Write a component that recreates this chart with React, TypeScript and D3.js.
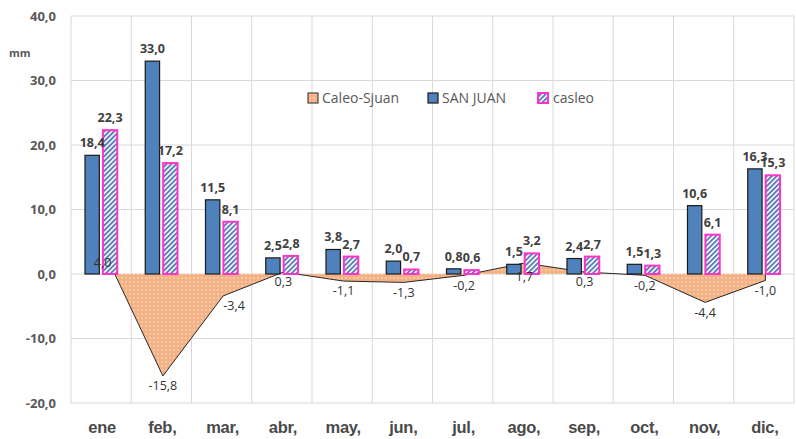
import React from 'react'
import * as d3 from 'd3'

// Monthly rainfall, mm
const months = ['ene', 'feb,', 'mar,', 'abr,', 'may,', 'jun,', 'jul,', 'ago,', 'sep,', 'oct,', 'nov,', 'dic,']
const sanJuan = [18.4, 33.0, 11.5, 2.5, 3.8, 2.0, 0.8, 1.5, 2.4, 1.5, 10.6, 16.3]
const casleo = [22.3, 17.2, 8.1, 2.8, 2.7, 0.7, 0.6, 3.2, 2.7, 1.3, 6.1, 15.3]
const diff = [4.0, -15.8, -3.4, 0.3, -1.1, -1.3, -0.2, 1.7, 0.3, -0.2, -4.4, -1.0]
const yTicks = [-20, -10, 0, 10, 20, 30, 40]
const seriesNames = ['Caleo-Sjuan', 'SAN JUAN', 'casleo']

const W = 796
const H = 439
const plot = { left: 71, right: 794, top: 16, bottom: 403 }

const fmt = (v: number) => v.toFixed(1).replace('.', ',')

const BLUE = '#4f81bd'
const PINK = '#ff33cc'
const ORANGE = '#f4b183'
const GRID = '#d9d9d9'
const TXT = '#595959'

export default function App() {
  const x = d3.scaleBand<string>().domain(months).range([plot.left, plot.right]).padding(0)
  const x1 = d3.scaleBand<string>().domain(['s', 'c']).range([0, x.bandwidth()])
    .paddingInner(0.2).paddingOuter(0.78)
  const y = d3.scaleLinear().domain([-20, 40]).range([plot.bottom, plot.top])

  const cx = (i: number) => (x(months[i]) as number) + x.bandwidth() / 2 + 1.5

  const area = d3.area<number>()
    .x((_, i) => cx(i))
    .y0(y(0))
    .y1(d => y(d))
  const outline = d3.line<[number, number]>()
    .x(d => d[0]).y(d => d[1])
  const outlinePts: [number, number][] = [
    [cx(0), y(0)],
    ...diff.map((d, i) => [cx(i), y(d)] as [number, number]),
    [cx(diff.length - 1), y(0)],
  ]

  const labelFont = "'Open Sans', 'Liberation Sans', sans-serif"

  return (
    <div style={{ position: 'fixed', left: 0, top: 0 }}>
      <svg width={W} height={H} style={{ display: 'block', background: '#fff' }}>
        <defs>
          <pattern id="dots" width="4" height="4" patternUnits="userSpaceOnUse">
            <rect width="4" height="4" fill={ORANGE} />
            <circle cx="2" cy="2" r="0.7" fill="#fff" opacity="0.85" />
          </pattern>
          <pattern id="hatch" width="3.5" height="3.5" patternUnits="userSpaceOnUse" patternTransform="rotate(45)">
            <rect width="3.5" height="3.5" fill="#fff" />
            <rect width="1.9" height="3.5" fill="#5b7cb8" />
          </pattern>
        </defs>

        {/* grid */}
        {yTicks.map(t => (
          <line key={'h' + t} x1={plot.left} x2={plot.right} y1={y(t)} y2={y(t)} stroke={GRID} strokeWidth={1} />
        ))}
        {months.map(m => (
          <line key={'v' + m} x1={x(m)} x2={x(m)} y1={plot.top} y2={plot.bottom} stroke={GRID} strokeWidth={1} />
        ))}
        <line x1={plot.right} x2={plot.right} y1={plot.top} y2={plot.bottom} stroke={GRID} />

        {/* y tick labels */}
        {yTicks.map(t => (
          <text key={'yt' + t} x={56} y={y(t)} dy="0.35em" textAnchor="end"
            fontFamily={labelFont} fontWeight="bold" fontSize={13} fill={TXT}>{fmt(t)}</text>
        ))}
        <text x={9} y={53} dy="0.35em" fontFamily={labelFont} fontWeight="bold" fontSize={11} fill={TXT}>mm</text>

        {/* difference area */}
        <path d={area(diff) || ''} fill="url(#dots)" />
        <path d={outline(outlinePts) || ''} fill="none" stroke="#262626" strokeWidth={1} />

        {/* bars */}
        {months.map((m, i) => (
          <g key={'b' + m} transform={`translate(${x(m)},0)`}>
            <rect x={x1('s')} width={x1.bandwidth()} y={y(sanJuan[i])} height={y(0) - y(sanJuan[i])}
              fill={BLUE} stroke="#1a1a1a" strokeWidth={1.2} />
            <rect x={x1('c')} width={x1.bandwidth()} y={y(casleo[i])} height={y(0) - y(casleo[i])}
              fill="url(#hatch)" stroke={PINK} strokeWidth={2} />
          </g>
        ))}

        {/* bar labels */}
        {months.map((m, i) => (
          <g key={'bl' + m} fontFamily={labelFont} fontWeight="bold" fontSize={12.5} fill="#404040" textAnchor="middle">
            <text x={(x(m) as number) + (x1('s') as number) + x1.bandwidth() / 2} y={y(sanJuan[i]) - 8}>{fmt(sanJuan[i])}</text>
            <text x={(x(m) as number) + (x1('c') as number) + x1.bandwidth() / 2} y={y(casleo[i]) - 8}>{fmt(casleo[i])}</text>
          </g>
        ))}

        {/* area labels */}
        {diff.map((d, i) => (
          <text key={'al' + i} x={cx(i) + (i === 2 ? 11 : 0)} y={y(d) + (d > 1 ? 14 : 10)} dy="0.35em"
            textAnchor="middle" fontFamily={labelFont} fontSize={12.5} fill="#333">{fmt(d)}</text>
        ))}

        {/* x labels */}
        {months.map(m => (
          <text key={'xl' + m} x={(x(m) as number) + x.bandwidth() / 2 + 1} y={433}
            textAnchor="middle" fontFamily="'Liberation Sans', Arial, sans-serif" fontWeight="bold"
            fontSize={16.5} fill="#4a4a4a" letterSpacing={-0.3}>{m}</text>
        ))}

        {/* legend */}
        <g fontFamily={labelFont} fontSize={14} fill={TXT}>
          <rect x={308} y={93} width={10} height={10} fill="url(#dots)" stroke="#262626" strokeWidth={1} />
          <text x={322} y={98} dy="0.35em">{seriesNames[0]}</text>
          <rect x={428} y={93} width={10} height={10} fill={BLUE} stroke="#1a1a1a" strokeWidth={1.2} />
          <text x={442} y={98} dy="0.35em">{seriesNames[1]}</text>
          <rect x={538} y={93} width={10} height={10} fill="url(#hatch)" stroke={PINK} strokeWidth={2} />
          <text x={553} y={98} dy="0.35em">{seriesNames[2]}</text>
        </g>
      </svg>
    </div>
  )
}
